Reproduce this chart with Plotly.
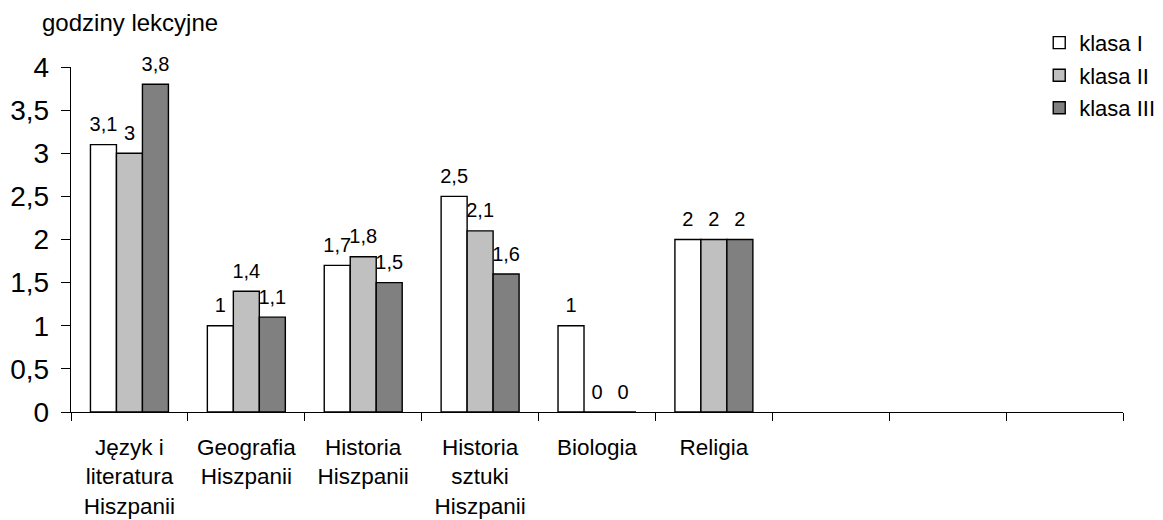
import plotly.graph_objects as go

categories = ["Język i<br>literatura<br>Hiszpanii", "Geografia<br>Hiszpanii", "Historia<br>Hiszpanii",
              "Historia<br>sztuki<br>Hiszpanii", "Biologia", "Religia"]
empty_slots = [" ", "  ", "   "]
series_names = ["klasa I", "klasa II", "klasa III"]
klasa_1 = [3.1, 1.0, 1.7, 2.5, 1.0, 2.0]
klasa_2 = [3.0, 1.4, 1.8, 2.1, 0.0, 2.0]
klasa_3 = [3.8, 1.1, 1.5, 1.6, 0.0, 2.0]
y_ticks = [0, 0.5, 1, 1.5, 2, 2.5, 3, 3.5, 4]
y_title = "godziny lekcyjne"

colors = ["#FFFFFF", "#C0C0C0", "#808080"]
FONT = "Liberation Sans, Arial, sans-serif"

def fmt(v):
    return f"{v:g}".replace(".", ",")

fig = go.Figure()
for i, (name, vals) in enumerate(zip(series_names, [klasa_1, klasa_2, klasa_3])):
    fig.add_trace(go.Bar(
        x=categories, y=vals, name=name,
        marker=dict(color=colors[i], line=dict(color="black", width=1.4)),
        legendgroup=name, offsetgroup=str(i),
    ))
for i, (name, vals) in enumerate(zip(series_names, [klasa_1, klasa_2, klasa_3])):
    fig.add_trace(go.Scatter(
        x=categories, y=vals, mode="markers+text",
        text=[fmt(v) for v in vals], textposition="top center",
        textfont=dict(family=FONT, size=20, color="black"),
        marker=dict(size=12, color="rgba(0,0,0,0)"),
        showlegend=False, hoverinfo="skip", cliponaxis=False, offsetgroup=str(i),
    ))

fig.update_layout(
    width=1163, height=520,
    margin=dict(l=63, r=47, t=59, b=116),
    paper_bgcolor="white", plot_bgcolor="white",
    barmode="group", bargap=0.333, bargroupgap=0,
    scattermode="group", scattergap=0.333,
    separators=",.",
    font=dict(family=FONT, color="black"),
    showlegend=True,
    legend=dict(x=0.9195, y=1.131, xanchor="left", yanchor="top",
                font=dict(family=FONT, size=22, color="black"),
                tracegroupgap=1, bgcolor="rgba(0,0,0,0)"),
    xaxis=dict(
        type="category", categoryorder="array", categoryarray=categories + empty_slots,
        range=[-0.5, 8.5], showline=True, linecolor="black", linewidth=1.4,
        ticks="outside", tickson="boundaries", ticklen=8, tickcolor="black", tickwidth=1.4,
        tickfont=dict(family=FONT, size=22.5, color="black"), showgrid=False, zeroline=False,
        ticklabelstandoff=15, fixedrange=True, automargin=False,
    ),
    yaxis=dict(
        range=[0, 4], tickvals=y_ticks, showline=True, linecolor="black", linewidth=1.4,
        ticks="outside", ticklen=9, tickcolor="black", tickwidth=1.4,
        tickfont=dict(family=FONT, size=28, color="black"), showgrid=False, zeroline=False,
        ticklabelstandoff=6, automargin=False,
    ),
    annotations=[dict(text=y_title, xref="paper", yref="paper", x=0.056, y=1.13,
                      xanchor="center", yanchor="middle", showarrow=False,
                      font=dict(family=FONT, size=24, color="black"))],
)

fig.write_html("out.html")
